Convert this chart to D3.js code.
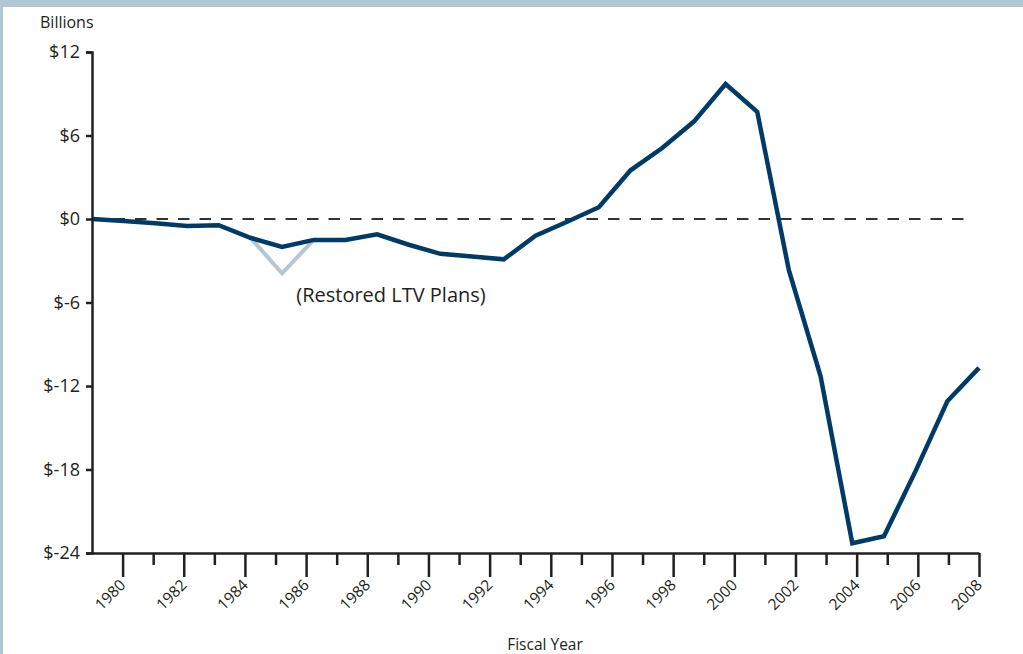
<!DOCTYPE html>
<html>
<head>
<meta charset="utf-8">
<script src="https://cdn.jsdelivr.net/npm/d3@7"></script>
<style>
    html, body { margin: 0; padding: 0; background: white; }
    svg { display: block; }
    text { font-family: "Open Sans", "Noto Sans", sans-serif; fill: #231f20; }
</style>
</head>
<body>
<div id="chart"></div>
<script>
// fiscal years and net position, billions
const fiscalYears = d3.range(1980, 2009);
const netPosition = [
    0.0, -0.15, -0.3, -0.5, -0.45, -1.35, -2.0, -1.5, -1.5, -1.1,
    -1.85, -2.5, -2.7, -2.9, -1.2, -0.2, 0.85, 3.5, 5.1, 7.0,
    9.7, 7.7, -3.7, -11.3, -23.3, -22.8, -18.1, -13.1, -10.7
];
// gray segment with the restored LTV plans
const ltvYears = [1985, 1986, 1987];
const ltvValues = [-1.35, -3.9, -1.5];

const yTicks = [12, 6, 0, -6, -12, -18, -24];
const axisYears = d3.range(1979, 2009);
const labelYears = d3.range(1980, 2009, 2);

const width = 1023, height = 654;
const margin = { left: 92, right: 44, top: 52, bottom: 101 };

const colors = {
    frame: "#b3c6d3",
    line: "#003b68",
    ltv: "#b4c6d2",
    axis: "#231f20",
    dash: "#333333",
};

const svg = d3.select("#chart").append("svg")
    .attr("width", width)
    .attr("height", height);

// frame
svg.append("rect").attr("x", 0).attr("y", 0).attr("width", width).attr("height", 7).attr("fill", colors.frame);
svg.append("rect").attr("x", 0).attr("y", 0).attr("width", 3).attr("height", height).attr("fill", colors.frame);

// scales
const xAxisScale = d3.scaleLinear()
    .domain([1979, 2008])
    .range([margin.left, width - margin.right]);
// the data points are spread over the full axis width
const xData = d3.scaleLinear()
    .domain([1980, 2008])
    .range([margin.left, width - margin.right]);
const y = d3.scaleLinear()
    .domain([-24, 12])
    .range([height - margin.bottom, margin.top]);

// zero line
svg.append("line")
    .attr("x1", margin.left)
    .attr("x2", 972)
    .attr("y1", y(0))
    .attr("y2", y(0))
    .attr("stroke", colors.dash)
    .attr("stroke-width", 2)
    .attr("stroke-dasharray", "11.5 10");

// lines
const line = d3.line()
    .x(d => xData(d[0]))
    .y(d => y(d[1]));

svg.append("path")
    .datum(d3.zip(ltvYears, ltvValues))
    .attr("d", line)
    .attr("fill", "none")
    .attr("stroke", colors.ltv)
    .attr("stroke-width", 4);

svg.append("path")
    .datum(d3.zip(fiscalYears, netPosition))
    .attr("d", line)
    .attr("fill", "none")
    .attr("stroke", colors.line)
    .attr("stroke-width", 4.5)
    .attr("stroke-linejoin", "miter");

// y axis
const yAxis = svg.append("g")
    .attr("transform", `translate(${margin.left},0)`)
    .call(d3.axisLeft(y).tickValues(yTicks).tickSize(6).tickPadding(6).tickFormat(d => "$" + d));
yAxis.select(".domain").attr("stroke", colors.axis).attr("stroke-width", 2.5);
yAxis.selectAll(".tick line").attr("stroke", colors.axis).attr("stroke-width", 2.5);
yAxis.selectAll(".tick text")
    .attr("font-size", 18)
    .attr("fill", colors.axis)
    .style("font-family", "'Open Sans', sans-serif");

// x axis
const xAxis = svg.append("g")
    .attr("transform", `translate(0,${height - margin.bottom})`)
    .call(d3.axisBottom(xAxisScale).tickValues(axisYears).tickSizeOuter(0).tickFormat(""));
xAxis.select(".domain").attr("stroke", colors.axis).attr("stroke-width", 2.5);
xAxis.selectAll(".tick line")
    .attr("stroke", colors.axis)
    .attr("stroke-width", 2.5)
    .attr("y2", d => d === 1979 ? 0 : (d % 2 === 0 ? 24 : 12));
xAxis.selectAll(".tick text").remove();

svg.append("g").selectAll("text")
    .data(labelYears)
    .join("text")
    .attr("transform", d => `translate(${xAxisScale(d) + 4},${height - margin.bottom + 33}) rotate(-45)`)
    .attr("text-anchor", "end")
    .attr("font-size", 15.5)
    .text(d => d);

// labels
svg.append("text")
    .attr("x", 40)
    .attr("y", 28)
    .attr("font-size", 16)
    .text("Billions");

svg.append("text")
    .attr("x", 545)
    .attr("y", 650)
    .attr("text-anchor", "middle")
    .attr("font-size", 15.5)
    .text("Fiscal Year");

svg.append("text")
    .attr("x", 391)
    .attr("y", 302)
    .attr("text-anchor", "middle")
    .attr("font-size", 20)
    .text("(Restored LTV Plans)");
</script>
</body>
</html>
